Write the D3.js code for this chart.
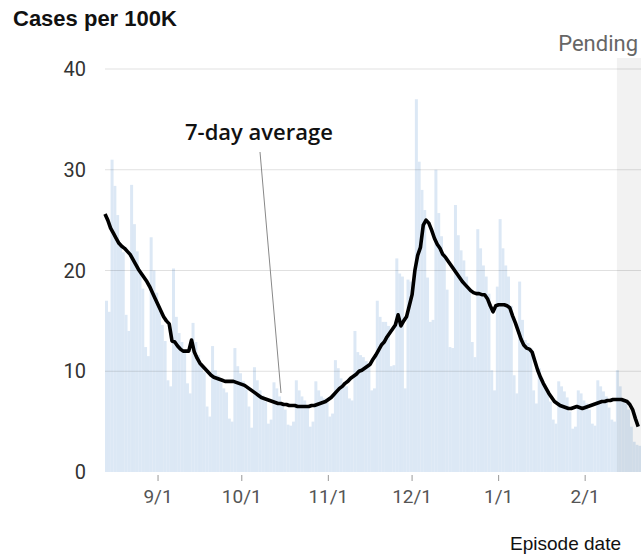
<!DOCTYPE html>
<html>
<head>
<meta charset="utf-8">
<script src="https://cdn.jsdelivr.net/npm/d3@7"></script>
<style>
  html, body { margin: 0; padding: 0; background: #fff; }
  svg { display: block; }
</style>
</head>
<body>
<div id="chart"></div>
<script>
// ---------------- DATA ----------------
const startDate = "2020-08-13";
const endDate = "2021-02-21";
const pendingStart = "2021-02-12";

const dailyCases = [
  17.0, 15.9, 31.0, 28.4, 25.5, 22.6, 21.8, 15.6, 14.0, 28.5,
  24.6, 21.9, 19.9, 18.2, 12.4, 11.5, 23.3, 20.0, 17.8, 16.0,
  14.6, 13.0, 9.1, 8.5, 20.2, 15.4, 13.8, 12.9, 11.8, 8.8,
  7.8, 14.8, 12.9, 11.6, 10.6, 9.9, 6.5, 5.5, 12.5, 10.1,
  9.6, 8.9, 8.3, 7.9, 5.3, 5.0, 12.3, 10.5, 9.8, 9.0,
  8.2, 6.5, 4.4, 10.4, 9.1, 8.1, 7.6, 7.0, 4.8, 5.2,
  8.9, 8.3, 7.5, 6.8, 6.2, 4.7, 4.6, 5.0, 9.1, 8.1,
  7.5, 7.1, 6.6, 4.5, 5.0, 9.0, 8.1, 7.5, 7.3, 6.9,
  5.5, 5.8, 11.1, 10.3, 9.3, 8.8, 8.5, 7.3, 7.1, 14.0,
  11.9, 11.6, 11.4, 11.0, 10.8, 8.1, 8.3, 17.0, 15.4, 14.9,
  14.9, 14.5, 10.5, 10.6, 21.2, 19.7, 19.4, 8.3, 19.1, 18.9,
  18.6, 37.0, 30.8, 28.0, 26.0, 19.3, 14.9, 15.1, 30.0, 25.7,
  23.4, 21.7, 18.1, 12.4, 12.3, 26.5, 23.5, 22.0, 21.0, 19.4,
  18.2, 12.9, 11.4, 24.1, 22.2, 20.5, 19.4, 17.7, 10.1, 8.1,
  18.4, 25.1, 22.2, 20.5, 19.4, 16.5, 9.6, 7.8, 18.9, 15.1,
  13.1, 12.8, 12.3, 8.1, 6.8, 10.3, 9.3, 8.6, 8.0, 7.0,
  5.2, 4.8, 9.0, 8.5, 8.0, 7.4, 6.0, 4.3, 4.5, 8.1,
  7.8, 7.1, 6.8, 6.2, 4.8, 4.6, 9.1, 8.5, 8.0, 7.5,
  6.4, 5.2, 5.0, 10.1, 8.5, 7.3, 6.8, 6.2, 4.5, 3.0,
  2.7, 2.6
];

const sevenDayAvg = [
  25.6, 25.0, 24.2, 23.7, 23.2, 22.7, 22.4, 22.2, 21.9, 21.6,
  21.1, 20.6, 20.1, 19.7, 19.3, 18.9, 18.4, 17.8, 17.2, 16.6,
  16.0, 15.4, 15.0, 14.7, 13.0, 12.9, 12.5, 12.2, 12.0, 12.0,
  12.0, 13.1, 11.9, 11.3, 10.8, 10.5, 10.2, 9.9, 9.6, 9.4,
  9.3, 9.2, 9.1, 9.0, 9.0, 9.0, 9.0, 8.9, 8.8, 8.7,
  8.6, 8.4, 8.2, 8.0, 7.8, 7.6, 7.4, 7.3, 7.2, 7.1,
  7.0, 6.9, 6.8, 6.8, 6.7, 6.7, 6.6, 6.6, 6.6, 6.5,
  6.5, 6.5, 6.5, 6.5, 6.6, 6.6, 6.7, 6.8, 6.9, 7.0,
  7.2, 7.4, 7.7, 8.0, 8.3, 8.5, 8.8, 9.0, 9.3, 9.5,
  9.7, 10.0, 10.1, 10.3, 10.5, 10.7, 11.2, 11.6, 12.1, 12.6,
  12.9, 13.4, 13.8, 14.2, 14.6, 15.6, 14.5, 15.0, 15.4, 16.5,
  17.6, 20.0, 21.5, 22.3, 24.5, 25.0, 24.7, 24.0, 23.2, 22.6,
  22.2, 21.6, 21.3, 20.9, 20.5, 20.1, 19.7, 19.3, 18.9, 18.6,
  18.3, 18.0, 17.8, 17.7, 17.7, 17.6, 17.6, 17.2, 16.5, 15.9,
  16.5, 16.6, 16.6, 16.6, 16.5, 16.3, 15.5, 14.8, 14.0, 13.2,
  12.6, 12.3, 12.2, 11.9, 11.0, 10.1, 9.4, 8.8, 8.3, 7.8,
  7.4, 7.0, 6.8, 6.6, 6.5, 6.4, 6.3, 6.3, 6.4, 6.5,
  6.4, 6.3, 6.4, 6.5, 6.6, 6.7, 6.8, 6.9, 7.0, 7.0,
  7.1, 7.1, 7.2, 7.2, 7.2, 7.2, 7.1, 7.0, 6.7, 6.2,
  5.3, 4.5
];

const yTickValues = [0, 10, 20, 30, 40];
const xTickLabels = ["9/1", "10/1", "11/1", "12/1", "1/1", "2/1"];
const xTickDates = ["2020-09-01", "2020-10-01", "2020-11-01", "2020-12-01", "2021-01-01", "2021-02-01"];

const titleText = "Cases per 100K";
const xAxisTitle = "Episode date";
const pendingText = "Pending";
const annotationText = "7-day average";

// ---------------- CHART ----------------
const W = 641, H = 554;
const parse = d3.utcParse("%Y-%m-%d");
const t0 = parse(startDate), t1 = parse(endDate);
const days = dailyCases.map((v, i) => ({ date: d3.utcDay.offset(t0, i), value: v, avg: sevenDayAvg[i] }));

const x = d3.scaleUtc().domain([t0, t1]).range([105, 641]);
const y = d3.scaleLinear().domain([0, 40]).range([472, 69]);

const svg = d3.select("#chart").append("svg").attr("width", W).attr("height", H);

// bars
svg.append("g").selectAll("rect").data(days).join("rect")
  .attr("x", d => x(d.date))
  .attr("width", d => x(d3.utcDay.offset(d.date, 1)) - x(d.date) + 0.2)
  .attr("y", d => y(d.value))
  .attr("height", d => y(0) - y(d.value))
  .attr("fill", "#dce8f5");

// gridlines (drawn over bars)
svg.append("g").selectAll("line").data(yTickValues.filter(v => v > 0)).join("line")
  .attr("x1", 105).attr("x2", 641)
  .attr("y1", d => y(d)).attr("y2", d => y(d))
  .attr("stroke", "#000").attr("stroke-opacity", 0.12).attr("stroke-width", 1);

// pending overlay
const ps = parse(pendingStart);
svg.append("rect")
  .attr("x", x(ps) + 1).attr("width", 641 - x(ps) - 1)
  .attr("y", 58).attr("height", y(0) - 58)
  .attr("fill", "#000").attr("fill-opacity", 0.05);

svg.append("text")
  .attr("x", 638).attr("y", 51)
  .attr("text-anchor", "end")
  .attr("font-family", "Roboto, sans-serif").attr("font-weight", 400)
  .attr("font-size", 22).attr("fill", "#666")
  .text(pendingText);

// 7-day average line
const line = d3.line().x(d => x(d.date)).y(d => y(d.avg));
svg.append("path").datum(days)
  .attr("d", line)
  .attr("fill", "none").attr("stroke", "#000")
  .attr("stroke-width", 3.6).attr("stroke-linejoin", "round");

// y labels
svg.append("g").selectAll("text").data(yTickValues).join("text")
  .attr("x", 86).attr("y", d => y(d))
  .attr("dy", "0.36em")
  .attr("text-anchor", "end")
  .attr("font-family", "Roboto, sans-serif")
  .attr("font-size", 20).attr("fill", "#333")
  .text(d => d);

// x ticks
const xt = xTickDates.map((s, i) => ({ date: parse(s), label: xTickLabels[i] }));
svg.append("g").selectAll("line").data(xt).join("line")
  .attr("x1", d => x(d.date)).attr("x2", d => x(d.date))
  .attr("y1", 475).attr("y2", 481)
  .attr("stroke", "#999").attr("stroke-width", 1);
svg.append("g").selectAll("text").data(xt).join("text")
  .attr("x", d => x(d.date)).attr("y", 503)
  .attr("text-anchor", "middle")
  .attr("font-family", "Roboto, sans-serif")
  .attr("font-size", 19).attr("fill", "#555")
  .text(d => d.label);

// titles
svg.append("text")
  .attr("x", 13).attr("y", 26)
  .attr("font-family", "'Liberation Sans', Arial, sans-serif").attr("font-weight", "bold")
  .attr("font-size", 22).attr("fill", "#111")
  .text(titleText);

svg.append("text")
  .attr("x", 621).attr("y", 550)
  .attr("text-anchor", "end")
  .attr("font-family", "'Liberation Sans', Arial, sans-serif")
  .attr("font-size", 19).attr("fill", "#111")
  .text(xAxisTitle);

// annotation
svg.append("line")
  .attr("x1", 260).attr("y1", 152).attr("x2", 281).attr("y2", 393)
  .attr("stroke", "#888").attr("stroke-width", 1);
svg.append("text")
  .attr("x", 185).attr("y", 140)
  .attr("font-family", "'Open Sans', sans-serif").attr("font-weight", 600)
  .attr("font-size", 22).attr("fill", "#111")
  .text(annotationText);
</script>
</body>
</html>
